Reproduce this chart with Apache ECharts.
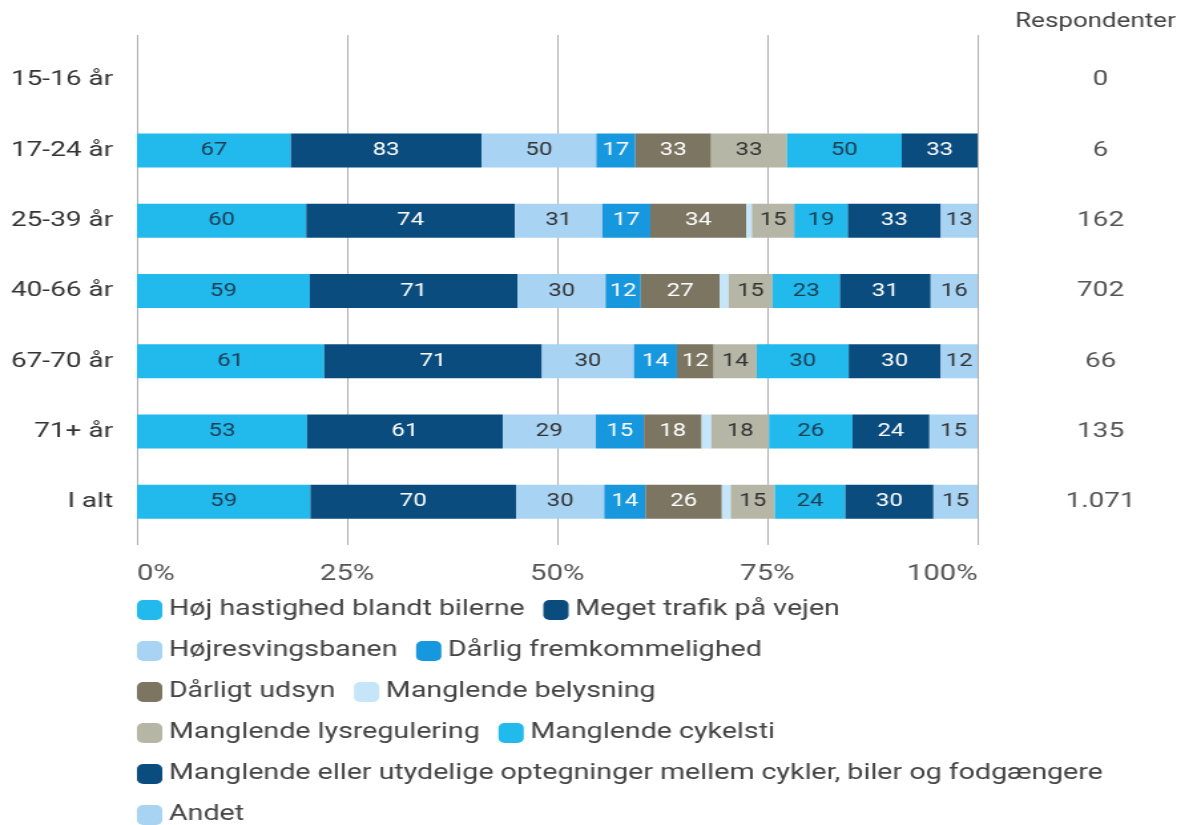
<!DOCTYPE html>
<html>
<head>
<meta charset="utf-8">
<script src="https://cdn.jsdelivr.net/npm/echarts@6/dist/echarts.min.js"></script>
<style>
  html, body { margin: 0; padding: 0; background: #fff; overflow: hidden; }
  /* chart is laid out narrow and widened horizontally */
  #chart { width: 902px; height: 825px; transform: scaleX(1.33); transform-origin: 0 0; }
</style>
</head>
<body>
<div id="chart"></div>
<script>
// Age groups and number of respondents
const categories = ['15-16 år', '17-24 år', '25-39 år', '40-66 år', '67-70 år', '71+ år', 'I alt'];
const respondents = ['0', '6', '162', '702', '66', '135', '1.071'];
const tickLabels = ['0%', '25%', '50%', '75%', '100%'];

// Share of respondents (%) naming each problem, per age group
const hojHastighed   = [0, 67, 60, 59, 61, 53, 59];
const megetTrafik    = [0, 83, 74, 71, 71, 61, 70];
const hojresving     = [0, 50, 31, 30, 30, 29, 30];
const darligFremk    = [0, 17, 17, 12, 14, 15, 14];
const darligtUdsyn   = [0, 33, 34, 27, 12, 18, 26];
const belysning      = [0,  0,  2,  3,  0,  3,  3];
const lysregulering  = [0, 33, 15, 15, 14, 18, 15];
const cykelsti       = [0, 50, 19, 23, 30, 26, 24];
const optegninger    = [0, 33, 33, 31, 30, 24, 30];
const andet          = [0,  0, 13, 16, 12, 15, 15];

const seriesDefs = [
  { name: 'Høj hastighed blandt bilerne', values: hojHastighed, color: '#22b9ec', text: '#1d3d52' },
  { name: 'Meget trafik på vejen', values: megetTrafik, color: '#0b4c7e', text: '#ffffff' },
  { name: 'Højresvingsbanen', values: hojresving, color: '#a8d3f3', text: '#333333' },
  { name: 'Dårlig fremkommelighed', values: darligFremk, color: '#1797dd', text: '#ffffff' },
  { name: 'Dårligt udsyn', values: darligtUdsyn, color: '#7b7561', text: '#ffffff' },
  { name: 'Manglende belysning', values: belysning, color: '#c4e6f8', text: '#333333' },
  { name: 'Manglende lysregulering', values: lysregulering, color: '#b6b6a6', text: '#333333' },
  { name: 'Manglende cykelsti', values: cykelsti, color: '#22b9ec', text: '#1d3d52' },
  { name: 'Manglende eller utydelige optegninger mellem cykler, biler og fodgængere', values: optegninger, color: '#0b4c7e', text: '#ffffff' },
  { name: 'Andet', values: andet, color: '#a8d3f3', text: '#333333' }
];

// each bar is scaled to 100% of the answers given in its age group
const totals = categories.map((_, i) => seriesDefs.reduce((s, d) => s + d.values[i], 0));

const FONT = 'Roboto';
const gridLeft = 103, gridRight = 167;

const series = seriesDefs.map(d => ({
  type: 'bar',
  name: d.name,
  stack: 'total',
  xAxisIndex: 1,
  yAxisIndex: 1,
  barWidth: 34,
  itemStyle: { color: d.color },
  emphasis: { disabled: true },
  data: d.values.map((v, i) => totals[i] ? v / totals[i] * 100 : 0),
  label: {
    show: true,
    position: 'inside',
    color: d.text,
    fontFamily: FONT,
    fontSize: 18,
    formatter: p => {
      const raw = d.values[p.dataIndex];
      return raw >= 10 ? String(raw) : '';
    }
  }
}));

const legendRows = [
  [0, 1], [2, 3], [4, 5], [6, 7], [8], [9]
];
const legendCenters = [607, 648, 689, 730, 771, 812];
const legends = legendRows.map((row, r) => ({
  left: gridLeft,
  top: legendCenters[r] - 8,
  padding: 0,
  orient: 'horizontal',
  icon: 'roundRect',
  itemWidth: 19,
  itemHeight: 20,
  itemGap: 14,
  selectedMode: false,
  textStyle: { fontFamily: FONT, fontSize: 21.5, color: '#444' },
  data: row.map(i => seriesDefs[i].name)
}));

const option = {
  animation: false,
  backgroundColor: '#ffffff',
  textStyle: { fontFamily: FONT },
  grid: [
    { left: gridLeft, right: gridRight, top: 35, bottom: 280 },
    { left: gridLeft, right: gridRight, top: 45, height: 492 }
  ],
  xAxis: [
    {
      gridIndex: 0, type: 'value', min: 0, max: 100, interval: 25,
      axisLine: { show: false }, axisTick: { show: false },
      splitLine: { show: true, lineStyle: { color: '#b0b0b0', width: 1 } },
      axisLabel: {
        margin: 18, fontFamily: FONT, fontSize: 22, color: '#555',
        alignMinLabel: 'left', alignMaxLabel: 'right',
        formatter: v => tickLabels[Math.round(v / 25)]
      }
    },
    { gridIndex: 1, type: 'value', min: 0, max: 100, show: false }
  ],
  yAxis: [
    { gridIndex: 0, type: 'value', show: false },
    {
      gridIndex: 1, type: 'category', data: categories, inverse: true,
      axisLine: { show: false }, axisTick: { show: false }, splitLine: { show: false },
      axisLabel: { margin: 18, fontFamily: FONT, fontSize: 21, color: '#333' }
    },
    {
      gridIndex: 1, type: 'category', data: categories, inverse: true, position: 'right',
      axisLine: { show: false }, axisTick: { show: false }, splitLine: { show: false },
      axisLabel: {
        margin: 92.5, align: 'center', fontFamily: FONT, fontSize: 21, color: '#555',
        formatter: (v, i) => respondents[i]
      }
    }
  ],
  legend: legends,
  graphic: [
    {
      type: 'text', right: 18, top: 12,
      style: { text: 'Respondenter', fontFamily: FONT, fontSize: 19.5, fill: '#444' }
    }
  ],
  series: series
};

const chart = echarts.init(document.getElementById('chart'), null, { renderer: 'canvas' });
chart.setOption(option);
</script>
</body>
</html>
